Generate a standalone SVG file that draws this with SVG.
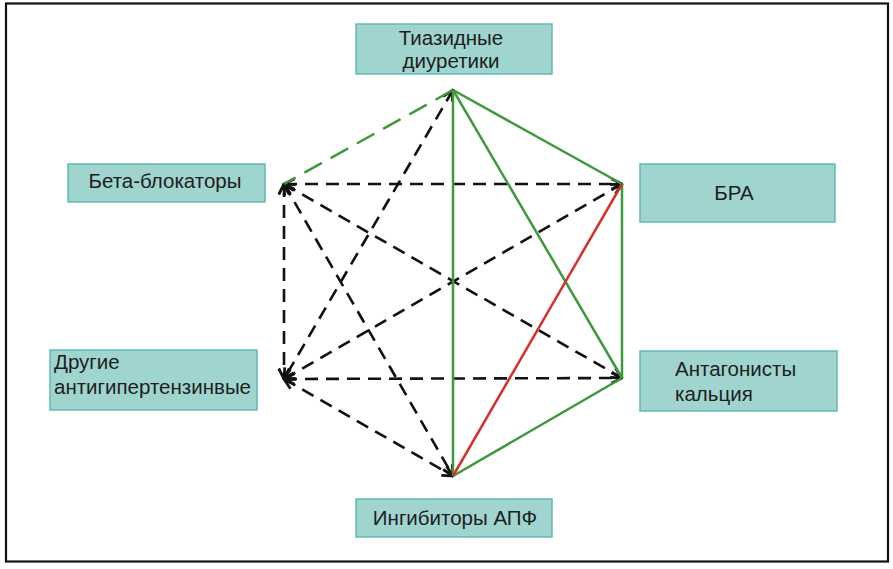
<svg xmlns="http://www.w3.org/2000/svg" width="893" height="569" viewBox="0 0 893 569">
<style>
.box{fill:#9fd4cf;stroke:#62b9b3;stroke-width:1.5}
.t{font-family:"Liberation Sans",Arial,sans-serif;font-size:20.5px;fill:#1e1e1e}
.c{text-anchor:middle}
.g{stroke:#3c9a3c;stroke-width:2.5;fill:none}
.r{stroke:#d5302a;stroke-width:2.5;fill:none}
.k{stroke:#111;stroke-width:2.6;fill:none;stroke-dasharray:13 8;marker-start:url(#ah);marker-end:url(#ah)}
</style>
<defs>
<marker id="ah" markerUnits="userSpaceOnUse" markerWidth="14" markerHeight="14" viewBox="0 0 12 12" refX="11" refY="6" orient="auto-start-reverse">
<path d="M2,1.5 L11,6 L2,10.5" fill="none" stroke="#111" stroke-width="2.4"/>
</marker>
</defs>
<rect x="6" y="3.5" width="882" height="558" fill="#fff" stroke="#111" stroke-width="2.2"/>
<g id="connectors">
<line class="k" x1="284" y1="184" x2="622" y2="184"/>
<line class="k" x1="284" y1="184" x2="284" y2="379"/>
<line class="k" x1="284" y1="184" x2="622" y2="378"/>
<line class="k" x1="284" y1="184" x2="453" y2="476"/>
<line class="k" x1="453" y1="90" x2="284" y2="379"/>
<line class="k" x1="284" y1="379" x2="622" y2="184"/>
<line class="k" x1="284" y1="379" x2="622" y2="378"/>
<line class="k" x1="284" y1="379" x2="453" y2="476"/>
<line class="g" x1="453" y1="90" x2="284" y2="184" stroke-dasharray="20 10"/>
<line class="g" x1="453" y1="90" x2="622" y2="184"/>
<line class="g" x1="453" y1="90" x2="453" y2="476"/>
<line class="g" x1="453" y1="90" x2="622" y2="378"/>
<line class="g" x1="622" y1="184" x2="622" y2="378"/>
<line class="g" x1="622" y1="378" x2="453" y2="476"/>
<line class="r" x1="622" y1="184" x2="453" y2="476"/>
</g>
<g id="node-thiazide">
<rect class="box" x="356" y="24" width="196" height="50"/>
<text class="t c" x="451" y="45">Тиазидные</text>
<text class="t c" x="451" y="68">диуретики</text>
</g>
<g id="node-beta">
<rect class="box" x="68" y="164" width="197" height="38"/>
<text class="t c" x="165" y="188">Бета-блокаторы</text>
</g>
<g id="node-bra">
<rect class="box" x="640" y="164" width="195" height="58"/>
<text class="t c" x="734" y="200">БРА</text>
</g>
<g id="node-other">
<rect class="box" x="50" y="350" width="207" height="60"/>
<text class="t" x="54" y="369">Другие</text>
<text class="t" x="54" y="394">антигипертензинвые</text>
</g>
<g id="node-calcium">
<rect class="box" x="640" y="351" width="197" height="60"/>
<text class="t" x="675" y="376">Антагонисты</text>
<text class="t" x="675" y="401">кальция</text>
</g>
<g id="node-ace">
<rect class="box" x="356" y="499" width="196" height="38"/>
<text class="t c" x="455" y="525">Ингибиторы АПФ</text>
</g>
</svg>
